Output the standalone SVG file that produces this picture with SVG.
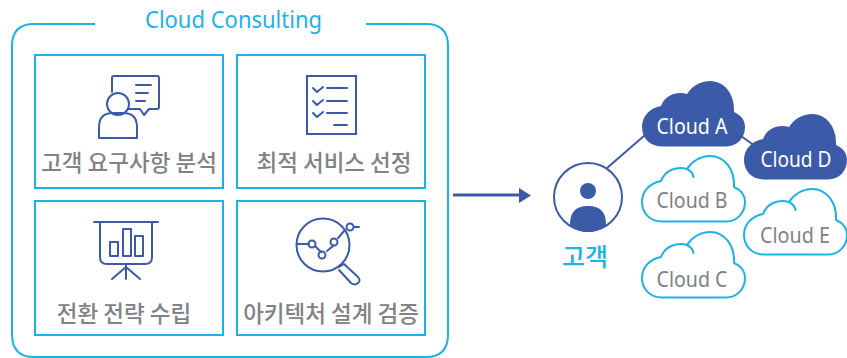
<svg xmlns="http://www.w3.org/2000/svg" xmlns:xlink="http://www.w3.org/1999/xlink" width="847" height="358" viewBox="0 0 847 358">
<style>
.box{fill:#fff;stroke:#1cb2e8;stroke-width:2}
.ic{fill:none;stroke:#3b5ba9;stroke-width:2;stroke-linejoin:round;stroke-linecap:round}
.lab{font-family:"Noto Sans CJK KR","Noto Sans",sans-serif;font-size:22.500px;font-weight:500;fill:#808285;text-anchor:middle}
.cl{font-family:"Noto Sans","Noto Sans CJK KR",sans-serif;font-size:21px;text-anchor:middle}
.cfill{fill:#3b5ba9}
.cline{fill:#fff;stroke:#1cb2e8;stroke-width:2;stroke-linejoin:round;stroke-linecap:round}
</style>
<defs>
<path id="cloud" d="M20 65.500C8 65.500 0 57 0 46C0 35 8 27 19 25C23 14 35 10 45 13C50 5 59 0 68 0C83 0 93 14 92 31C99 34 103 39 103 46C103 57 95 65.500 84 65.500Z"/>
<path id="hook" d="M45 13C49 15 51 18 51.500 21"/>
</defs>
<g id="connectors">
<path d="M453 195H520" fill="none" stroke="#3b5ba9" stroke-width="3"/>
<path d="M519 188L531 195.500L519 203Z" fill="#3b5ba9"/>
<path d="M607 168L652 129" fill="none" stroke="#3b5ba9" stroke-width="2"/>
<path d="M741 136L755 146" fill="none" stroke="#3b5ba9" stroke-width="2"/>
</g>
<g id="cloud-consulting">
<path d="M95 24H34Q12 24 12 46V334Q12 357 34 357H426Q448 357 448 334V46Q448 24 426 24H366" fill="none" stroke="#1cb2e8" stroke-width="2"/>
<text x="233.500" y="28" font-family="'Noto Sans','Noto Sans CJK KR',sans-serif" font-size="23" fill="#1cb2e8" text-anchor="middle" textLength="177" lengthAdjust="spacingAndGlyphs">Cloud Consulting</text>
</g>
<g id="node-analysis">
<rect class="box" x="35" y="55" width="188" height="133"/>
<path class="ic" d="M112 92V78Q112 76 114 76H157Q159 76 159 78V107Q159 109 157 109H149L144 115L140 109H128"/>
<path class="ic" d="M136 85H151M136 93H148M136 101H145"/>
<circle class="ic" cx="118" cy="104" r="11"/>
<path class="ic" d="M99 138V127Q99 113 113 113H123Q137 113 137 127V138Z"/>
<text class="lab" x="129" y="171">고객 요구사항 분석</text>
</g>
<g id="node-service">
<rect class="box" x="237" y="55" width="188" height="133"/>
<rect class="ic" x="307" y="76" width="49" height="58" style="stroke-linejoin:miter"/>
<path class="ic" d="M313 88L317 92L323 87M327 88H347M313 101L317 105L323 100M327 101H347M313 113L317 117L323 112M327 113H347M334 125H347"/>
<text class="lab" x="334" y="171">최적 서비스 선정</text>
</g>
<g id="node-strategy">
<rect class="box" x="35" y="201" width="188" height="134"/>
<path class="ic" d="M94 222H158M100 222V257Q100 264 107 264H145Q152 264 152 257V222"/>
<path class="ic" d="M110 242H118V256H110ZM123 229H131V256H123ZM135 236H143V256H135Z"/>
<path class="ic" d="M126 264V279M126 267L112 279M126 267L140 279"/>
<text class="lab" x="124" y="322">전환 전략 수립</text>
</g>
<g id="node-architecture">
<rect class="box" x="237" y="201" width="188" height="134"/>
<circle class="ic" cx="323" cy="245" r="26.500"/>
<path class="ic" d="M297 244H309M316 247L321 252M327 251L333 246M338 238L345 230M354 227H359"/>
<circle class="ic" cx="312" cy="244" r="3.500"/><circle class="ic" cx="322" cy="255" r="3.500"/><circle class="ic" cx="334" cy="242" r="3.500"/><circle class="ic" cx="350" cy="227" r="3.500"/>
<path class="ic" d="M339 267L344 264L358 277Q361 281 358 283Q355 286 351 283L339 270"/>
<text class="lab" x="331" y="322">아키텍처 설계 검증</text>
</g>
<g id="node-customer">
<circle cx="588" cy="197" r="34" fill="#fff" stroke="#3b5ba9" stroke-width="2"/>
<circle cx="588" cy="191" r="8" fill="#3b5ba9"/>
<path d="M570 226Q569 206 588 206Q607 206 606 226Q598 232 588 232Q578 232 570 226Z" fill="#3b5ba9"/>
<text x="585" y="266" font-family="'Noto Sans CJK KR',sans-serif" font-size="25" font-weight="500" fill="#1cb2e8" text-anchor="middle">고객</text>
</g>
<g id="cloud-a">
<use xlink:href="#cloud" x="642" y="81" class="cfill"/>
<text class="cl" x="692" y="134" fill="#fff" textLength="71" lengthAdjust="spacingAndGlyphs">Cloud A</text>
</g>
<g id="cloud-d">
<use xlink:href="#cloud" x="744" y="114" class="cfill"/>
<text class="cl" x="796" y="167" fill="#fff" textLength="71" lengthAdjust="spacingAndGlyphs">Cloud D</text>
</g>
<g id="cloud-b">
<use xlink:href="#cloud" x="642" y="156" class="cline"/><use xlink:href="#hook" x="642" y="156" class="cline"/>
<text class="cl" x="692" y="208" fill="#808285" textLength="71" lengthAdjust="spacingAndGlyphs">Cloud B</text>
</g>
<g id="cloud-c">
<use xlink:href="#cloud" x="642" y="232" class="cline"/><use xlink:href="#hook" x="642" y="232" class="cline"/>
<text class="cl" x="692" y="287" fill="#808285" textLength="71" lengthAdjust="spacingAndGlyphs">Cloud C</text>
</g>
<g id="cloud-e">
<use xlink:href="#cloud" x="744" y="189" class="cline"/><use xlink:href="#hook" x="744" y="189" class="cline"/>
<text class="cl" x="795" y="243" fill="#808285" textLength="70" lengthAdjust="spacingAndGlyphs">Cloud E</text>
</g>
</svg>
